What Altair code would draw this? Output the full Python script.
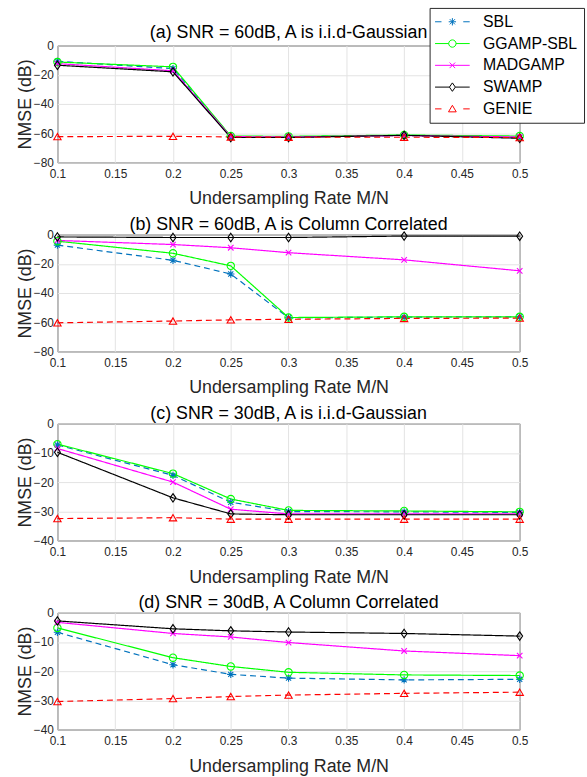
import altair as alt
import pandas as pd

# ---------------- data ----------------
x_rates = [0.1, 0.2, 0.25, 0.3, 0.4, 0.5]
methods = ["SBL", "GGAMP-SBL", "MADGAMP", "SWAMP", "GENIE"]
x_ticks = [0.1, 0.15, 0.2, 0.25, 0.3, 0.35, 0.4, 0.45, 0.5]
y_ticks_60 = [-80, -60, -40, -20, 0]
y_ticks_30 = [-40, -30, -20, -10, 0]

# (a) SNR = 60dB, i.i.d-Gaussian
a_sbl = [-10.8, -15.8, -62.6, -62.6, -61.5, -63.0]
a_ggamp = [-11.3, -14.6, -62.0, -62.2, -61.3, -62.0]
a_madgamp = [-12.4, -17.3, -62.4, -62.6, -61.7, -62.6]
a_swamp = [-13.5, -18.0, -63.0, -63.0, -61.5, -63.5]
a_genie = [-62.4, -62.2, -62.6, -62.8, -62.8, -63.0]
# (b) SNR = 60dB, column correlated
b_sbl = [-7.2, -17.6, -27.0, -57.0, -56.5, -56.3]
b_ggamp = [-4.5, -12.8, -21.4, -56.8, -56.3, -56.3]
b_madgamp = [-4.0, -6.8, -9.0, -12.4, -17.3, -24.8]
b_swamp = [-1.6, -2.0, -2.0, -2.0, -1.0, -1.1]
b_genie = [-60.4, -59.2, -58.4, -58.0, -57.4, -57.2]
# (c) SNR = 30dB, i.i.d-Gaussian
c_sbl = [-7.3, -17.7, -26.9, -30.1, -30.2, -30.4]
c_ggamp = [-7.0, -17.1, -25.8, -29.7, -29.9, -30.2]
c_madgamp = [-8.5, -20.0, -29.3, -30.9, -30.9, -30.9]
c_swamp = [-9.8, -25.4, -30.9, -31.2, -31.2, -31.2]
c_genie = [-32.5, -32.2, -32.7, -32.7, -32.7, -32.7]
# (d) SNR = 30dB, column correlated
d_sbl = [-6.7, -17.8, -21.1, -22.4, -23.0, -22.8]
d_ggamp = [-5.2, -15.4, -18.4, -20.4, -21.3, -21.5]
d_madgamp = [-3.3, -7.1, -8.3, -10.2, -13.1, -14.7]
d_swamp = [-2.8, -5.5, -6.2, -6.6, -7.1, -8.0]
d_genie = [-30.4, -29.4, -28.7, -28.2, -27.6, -27.2]

titles = [
    "(a) SNR = 60dB, A is i.i.d-Gaussian",
    "(b) SNR = 60dB, A is Column Correlated",
    "(c) SNR = 30dB, A is i.i.d-Gaussian",
    "(d) SNR = 30dB, A Column Correlated",
]

# ---------------- styles ----------------
FONT = "Liberation Sans"
colors = ["#0072BD", "#00FF00", "#FF00FF", "#000000", "#FF0000"]
dashes = [[6, 4], [1, 0], [1, 0], [1, 0], [6, 4]]
marker_shapes = [
    "M-1,0L1,0M0,-1L0,1M-0.7,-0.7L0.7,0.7M-0.7,0.7L0.7,-0.7",
    "circle",
    "M-0.75,-0.75L0.75,0.75M-0.75,0.75L0.75,-0.75",
    "M0,-1.15L0.8,0L0,1.15L-0.8,0Z",
    "triangle-up",
]
# legend symbols: short line (dashed or solid) with the marker in the middle
legend_shapes = [
    "M-3.5,0L-2.2,0M2.2,0L3.5,0M-0.74,0L0.74,0M0,-0.74L0,0.74M-0.52,-0.52L0.52,0.52M-0.52,0.52L0.52,-0.52",
    "M-3.5,0L-0.74,0M0.74,0L3.5,0M-0.74,0A0.74,0.74 0 1,0 0.74,0A0.74,0.74 0 1,0 -0.74,0",
    "M-3.5,0L3.5,0M-0.56,-0.56L0.56,0.56M-0.56,0.56L0.56,-0.56",
    "M-3.5,0L-0.6,0M0.6,0L3.5,0M0,-0.85L0.6,0L0,0.85L-0.6,0Z",
    "M-3.5,0L-2.2,0M2.2,0L3.5,0M0,-0.72L0.78,0.6L-0.78,0.6Z",
]

W, H = 467, 118


def make_df(series):
    rows = []
    for m, vals in zip(methods, series):
        for xv, v in zip(x_rates, vals):
            rows.append({"rate": xv, "nmse": v, "method": m})
    return pd.DataFrame(rows)


def panel(series, title, ydom, yticks, with_legend=False):
    df = make_df(series)
    base = alt.Chart(df)
    x = alt.X(
        "rate:Q",
        scale=alt.Scale(domain=[0.1, 0.5], nice=False, zero=False),
        axis=alt.Axis(values=x_ticks, format="~g", title="Undersampling Rate M/N",
                      labelFlush=False),
    )
    y = alt.Y(
        "nmse:Q",
        scale=alt.Scale(domain=ydom, nice=False, zero=False),
        axis=alt.Axis(values=yticks, title="NMSE (dB)"),
    )
    cscale = alt.Scale(domain=methods, range=colors)
    lines = base.mark_line(strokeWidth=1.2).encode(
        x=x, y=y,
        color=alt.Color("method:N", scale=cscale, legend=None),
        strokeDash=alt.StrokeDash("method:N", scale=alt.Scale(domain=methods, range=dashes), legend=None),
    )
    markers = base.mark_point(filled=False, size=55, strokeWidth=1.1, opacity=1).encode(
        x=x, y=y,
        color=alt.Color("method:N", scale=cscale, legend=None),
        shape=alt.Shape("method:N", scale=alt.Scale(domain=methods, range=marker_shapes), legend=None),
    )
    layers = [lines, markers]
    if with_legend:
        leg = alt.Legend(
            title=None, orient="none", legendX=376, legendY=-38, direction="vertical", columns=1,
            labelFont=FONT, labelFontSize=16, labelColor="black", labelOffset=23,
            symbolSize=100, symbolOffset=9, symbolStrokeWidth=1, symbolFillColor="transparent",
            padding=6, rowPadding=6, strokeColor="#262626", fillColor="white",
        )
        legend_layer = base.mark_point(filled=False, size=0, strokeWidth=1, opacity=1).encode(
            x=x, y=y,
            color=alt.Color("method:N", scale=cscale, legend=leg),
            shape=alt.Shape("method:N", scale=alt.Scale(domain=methods, range=legend_shapes), legend=leg),
        )
        layers.append(legend_layer)
        tparams = alt.TitleParams(title, offset=-35)
    else:
        tparams = alt.TitleParams(title, offset=-5)
    return (
        alt.layer(*layers)
        .resolve_scale(color="independent", shape="independent", strokeDash="independent")
        .properties(width=W, height=H, title=tparams)
    )


pa = panel([a_sbl, a_ggamp, a_madgamp, a_swamp, a_genie], titles[0], [-80, 0], y_ticks_60, True)
pb = panel([b_sbl, b_ggamp, b_madgamp, b_swamp, b_genie], titles[1], [-80, 0], y_ticks_60)
pc = panel([c_sbl, c_ggamp, c_madgamp, c_swamp, c_genie], titles[2], [-40, 0], y_ticks_30)
pd_ = panel([d_sbl, d_ggamp, d_madgamp, d_swamp, d_genie], titles[3], [-40, 0], y_ticks_30)

chart = (
    alt.vconcat(pa, pb, pc, pd_, spacing=6)
    .resolve_scale(color="independent", shape="independent", strokeDash="independent")
    .properties(padding={"left": 16, "top": 3, "right": 2, "bottom": 2}, background="white")
    .configure(font=FONT)
    .configure_view(stroke="#262626", strokeWidth=1)
    .configure_axis(
        labelFont=FONT, labelFontSize=12, labelColor="#262626",
        titleFont=FONT, titleFontSize=18, titleFontWeight="normal", titleColor="#262626",
        grid=True, gridColor="#e3e3e3", gridWidth=1, domain=False, ticks=False,
    )
    .configure_axisX(labelPadding=6, titlePadding=11)
    .configure_axisY(labelPadding=4, titlePadding=-1)
    .configure_title(font=FONT, fontSize=18, fontWeight="normal", color="black", anchor="middle")
)

chart.save("out.html", embed_options={"renderer": "svg", "actions": False})
